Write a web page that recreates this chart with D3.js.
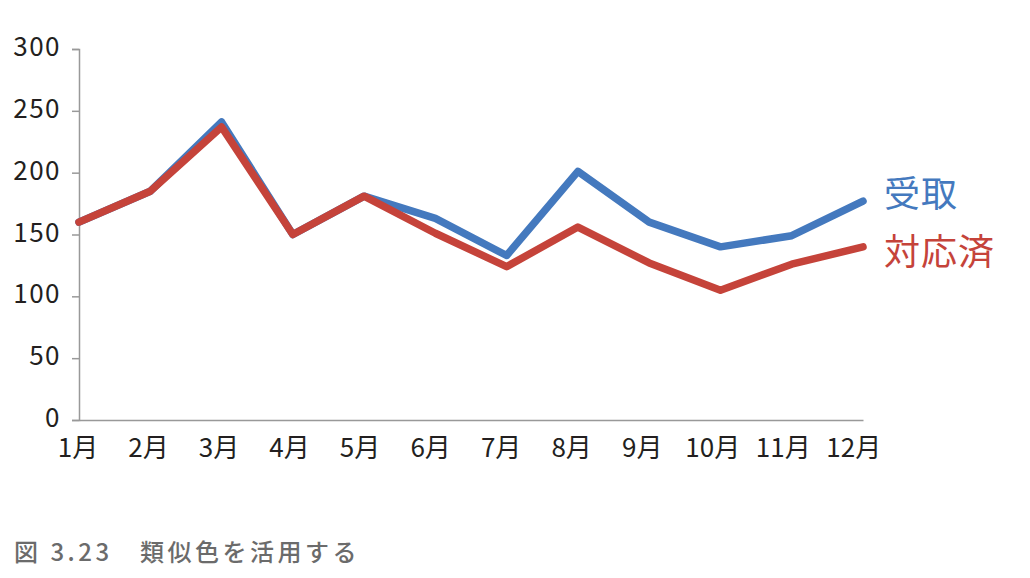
<!DOCTYPE html>
<html><head><meta charset="utf-8">
<script src="https://cdn.jsdelivr.net/npm/d3@7"></script>
<style>body{margin:0;background:#fff}</style>
</head><body>
<svg id="c" width="1030" height="578"></svg>
<script>
const months = ["1月","2月","3月","4月","5月","6月","7月","8月","9月","10月","11月","12月"];
const received = [160,185,241,150,181,163,133,201,160,140,149,177];
const handled  = [160,185,237,150,181,151,124,156,127,105,126,140];
const seriesNames = ["受取","対応済"];
const yTicks = [0,50,100,150,200,250,300];
const caption = "図 3.23　類似色を活用する";

const svg = d3.select("#c");
const font = "'Noto Sans CJK JP','Noto Sans',sans-serif";
const x = d3.scalePoint().domain(months).range([79,863]);
const y = d3.scaleLinear().domain([0,300]).range([420,49]);

const yAx = svg.append("g").attr("transform","translate(79,0)")
  .call(d3.axisLeft(y).tickValues(yTicks).tickSize(7).tickPadding(11));
yAx.select(".domain").attr("stroke","#999").attr("stroke-width",1.5);
yAx.selectAll(".tick line").attr("stroke","#999").attr("stroke-width",1.5);
yAx.selectAll("text").attr("font-family",font).attr("font-size",26).attr("letter-spacing",1.5)
  .attr("fill","#231f20").attr("dy","0.25em");

const xAx = svg.append("g").attr("transform","translate(0,420)")
  .call(d3.axisBottom(x).tickSize(0).tickPadding(19));
xAx.select(".domain").attr("stroke","#999").attr("stroke-width",1.5);
xAx.selectAll("text").attr("font-family",font).attr("font-size",26).attr("fill","#231f20")
  .attr("dx",(d,i)=>-1.5 - i*0.75);

const colors = ["#4479be","#c5433a"];
const labelShift = [-7, 5];
const line = d3.line().x((d,i)=>x(months[i])).y(d=>y(d));
[received, handled].forEach((s,k)=>{
  svg.append("path").datum(s).attr("d",line).attr("fill","none")
    .attr("stroke",colors[k]).attr("stroke-width",7.5)
    .attr("stroke-linejoin","round").attr("stroke-linecap","round");
  svg.append("text").attr("x",884).attr("y",y(s[s.length-1]) + labelShift[k])
    .attr("dy","0.36em").attr("font-family",font).attr("font-size",36)
    .attr("letter-spacing",1).attr("fill",colors[k]).text(seriesNames[k]);
});

svg.append("text").attr("x",14).attr("y",561).attr("font-family",font)
  .attr("font-size",24).attr("letter-spacing",3.5).attr("font-weight",500)
  .attr("fill","#6b6b6b").text(caption);
</script>
</body></html>
